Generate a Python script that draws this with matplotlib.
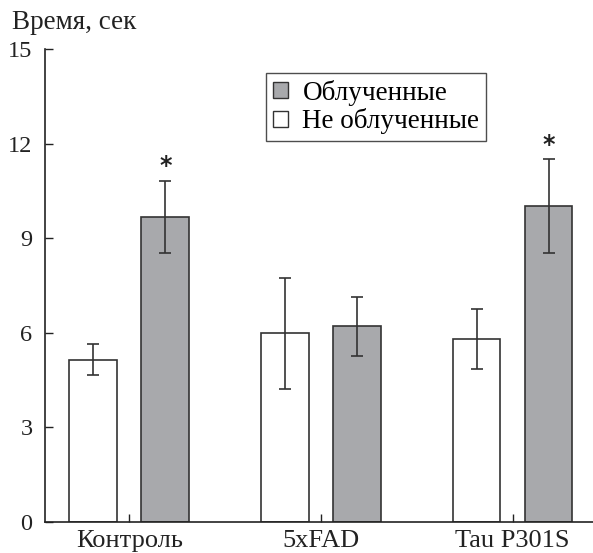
import matplotlib
matplotlib.use("Agg")
import matplotlib.pyplot as plt
from matplotlib.patches import Patch
import numpy as np

plt.rcParams['font.family'] = ['Liberation Serif', 'DejaVu Serif']

categories = ["Контроль", "5xFAD", "Tau P301S"]
nonirr_vals = [5.15, 6.0, 5.8]
nonirr_err_hi = [0.5, 1.75, 0.95]
nonirr_err_lo = [0.5, 1.8, 0.95]
irr_vals = [9.68, 6.2, 10.02]
irr_err_hi = [1.15, 0.95, 1.5]
irr_err_lo = [1.15, 0.95, 1.5]
significant = [True, False, True]
yticks = [0, 3, 6, 9, 12, 15]

fig = plt.figure(figsize=(5.93, 5.53), dpi=100)
ax = fig.add_axes([0.0759, 0.0566, 0.9241, 0.854])

x = np.arange(len(categories))
w = 0.25
off_w = -0.188
off_g = 0.188
grey = '#a8a9ac'
edge = '#333333'

ax.bar(x + off_w, nonirr_vals, w, color='white', edgecolor=edge, linewidth=1.2, zorder=2)
ax.bar(x + off_g, irr_vals, w, color=grey, edgecolor=edge, linewidth=1.2, zorder=2)
ax.errorbar(x + off_w, nonirr_vals, yerr=[nonirr_err_lo, nonirr_err_hi], fmt='none',
            ecolor=edge, elinewidth=1.2, capsize=4.5, capthick=1.2, zorder=3)
ax.errorbar(x + off_g, irr_vals, yerr=[irr_err_lo, irr_err_hi], fmt='none',
            ecolor=edge, elinewidth=1.2, capsize=4.5, capthick=1.2, zorder=3)
for i, s in enumerate(significant):
    if s:
        ax.text(x[i] + off_g, irr_vals[i] + irr_err_hi[i] + 0.46, '*', ha='center', va='center',
                fontsize=17, fontweight='bold', color='#222222', family='DejaVu Sans', zorder=10)

ax.set_xlim(-0.44, 2.42)
ax.set_ylim(0, 15)
ax.set_yticks(yticks)
ax.set_xticks(x)
ax.set_xticklabels(categories)
ax.tick_params(axis='both', direction='in', colors='#222222', length=6, width=1)
ax.tick_params(axis='y', pad=9, labelsize=17.5)
ax.tick_params(axis='x', pad=6, labelsize=19)
for sp in ['top', 'right']:
    ax.spines[sp].set_visible(False)
for sp in ['left', 'bottom']:
    ax.spines[sp].set_linewidth(1.2)
    ax.spines[sp].set_color('#222222')

handles = [Patch(facecolor=grey, edgecolor=edge, label='Облученные'),
           Patch(facecolor='white', edgecolor=edge, label='Не облученные')]
leg = ax.legend(handles=handles, loc='upper left', bbox_to_anchor=(0.403, 0.9506),
                fontsize=19.5, frameon=True, fancybox=False, handlelength=0.55, handleheight=0.55,
                handletextpad=0.55, borderpad=0.25, labelspacing=0.1, borderaxespad=0)
leg.get_frame().set_edgecolor('#222222')
leg.get_frame().set_linewidth(1.0)
leg.set_zorder(5)

fig.text(0.02, 0.96, 'Время, сек', fontsize=19.5, ha='left', va='center', color='#222222')

fig.savefig('out.png', dpi=100)
